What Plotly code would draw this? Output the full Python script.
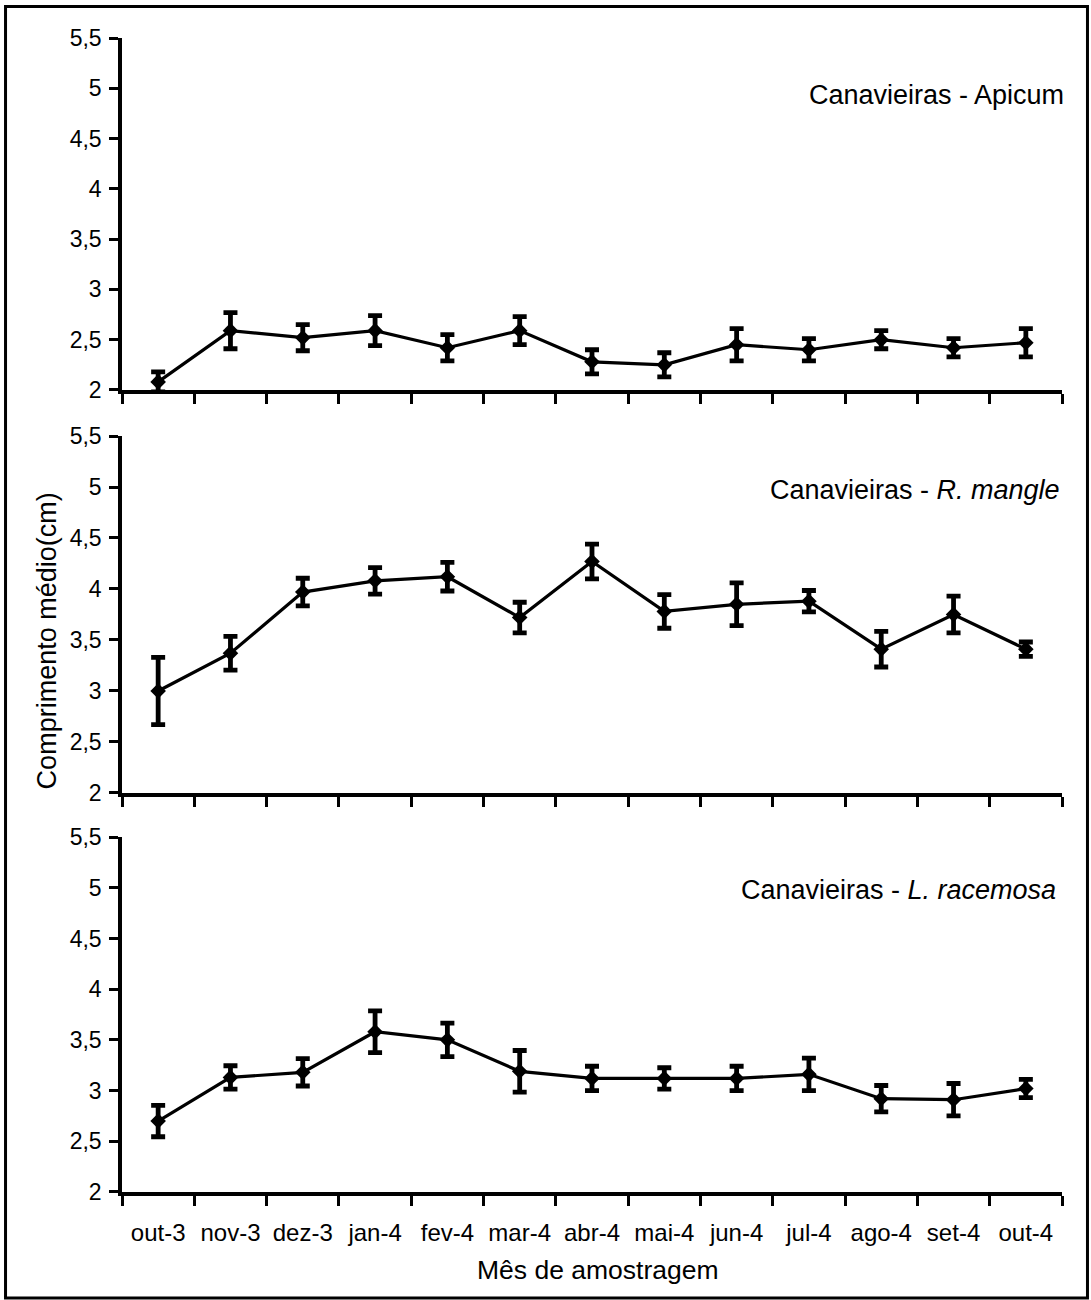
import plotly.graph_objects as go

# Sampling months (Oct 2003 - Oct 2004)
months = ["out-3", "nov-3", "dez-3", "jan-4", "fev-4", "mar-4", "abr-4",
          "mai-4", "jun-4", "jul-4", "ago-4", "set-4", "out-4"]

# Mean length (cm) and error per site
apicum_mean = [2.08, 2.59, 2.52, 2.59, 2.42, 2.59, 2.28, 2.25, 2.45, 2.40, 2.50, 2.42, 2.47]
apicum_err = [0.10, 0.18, 0.13, 0.15, 0.13, 0.14, 0.12, 0.12, 0.16, 0.11, 0.09, 0.09, 0.14]

mangle_mean = [3.00, 3.37, 3.97, 4.08, 4.12, 3.72, 4.27, 3.78, 3.85, 3.88, 3.41, 3.75, 3.41]
mangle_err = [0.33, 0.165, 0.135, 0.13, 0.14, 0.15, 0.17, 0.165, 0.21, 0.105, 0.175, 0.18, 0.07]

racemosa_mean = [2.70, 3.13, 3.18, 3.58, 3.50, 3.19, 3.12, 3.12, 3.12, 3.16, 2.92, 2.91, 3.02]
racemosa_err = [0.155, 0.115, 0.135, 0.205, 0.165, 0.205, 0.12, 0.105, 0.12, 0.16, 0.13, 0.16, 0.09]

panel_labels = ["Canavieiras - Apicum",
                "Canavieiras - <i>R. mangle</i>",
                "Canavieiras - <i>L. racemosa</i>"]

y_tickvals = [2, 2.5, 3, 3.5, 4, 4.5, 5, 5.5]
y_ticktext = ["2", "2,5", "3", "3,5", "4", "4,5", "5", "5,5"]

FONT = "Liberation Sans, Arial, sans-serif"
BLACK = "#000000"

series = [(apicum_mean, apicum_err), (mangle_mean, mangle_err), (racemosa_mean, racemosa_err)]
domains = [[0.695, 1.0], [0.3458, 0.6551], [0.0, 0.3076]]

fig = go.Figure()

for i, (mean, err) in enumerate(series, start=1):
    fig.add_trace(go.Scatter(
        x=months, y=mean,
        xaxis=f"x{i}" if i > 1 else "x",
        yaxis=f"y{i}" if i > 1 else "y",
        mode="lines+markers",
        line=dict(color=BLACK, width=3.2),
        marker=dict(symbol="diamond", size=12, color=BLACK),
        error_y=dict(type="data", array=err, visible=True,
                     color=BLACK, thickness=4.8, width=7),
        cliponaxis=False,
        showlegend=False,
    ))

layout = dict(
    width=1091, height=1300,
    margin=dict(l=122, r=29, t=38, b=108),
    paper_bgcolor="white", plot_bgcolor="white",
    font=dict(family=FONT, color=BLACK, size=24),
    showlegend=False,
)

for i in range(1, 4):
    xa = "xaxis" if i == 1 else f"xaxis{i}"
    ya = "yaxis" if i == 1 else f"yaxis{i}"
    ykey = "y" if i == 1 else f"y{i}"
    xkey = "x" if i == 1 else f"x{i}"
    layout[xa] = dict(
        type="category", anchor=ykey, domain=[0, 1],
        categoryorder="array", categoryarray=months,
        range=[-0.5, 12.5],
        showline=True, linecolor=BLACK, linewidth=3.5,
        ticks="outside", tickson="boundaries", ticklen=10, tickwidth=3,
        tickcolor=BLACK, showgrid=False, zeroline=False,
        showticklabels=(i == 3), tickangle=0,
        tickfont=dict(family=FONT, size=24, color=BLACK),
        ticklabelstandoff=16,
    )
    layout[ya] = dict(
        anchor=xkey, domain=domains[i - 1],
        range=[2, 5.5],
        tickvals=y_tickvals, ticktext=y_ticktext,
        showline=True, linecolor=BLACK, linewidth=3.5,
        ticks="outside", ticklen=9, tickwidth=3, tickcolor=BLACK,
        showgrid=False, zeroline=False,
        tickfont=dict(family=FONT, size=23, color=BLACK),
        ticklabelstandoff=3,
    )

fig.update_layout(**layout)

# Site labels in the upper right of each panel
label_pos = [(1.0043, 0.9506), (1.0, 0.6083), (0.9957, 0.2617)]
for text, (px, py) in zip(panel_labels, label_pos):
    fig.add_annotation(text=text, xref="paper", yref="paper", x=px, y=py,
                       xanchor="right", yanchor="middle", showarrow=False,
                       font=dict(family=FONT, size=27, color=BLACK))

# Axis titles
fig.add_annotation(text="Comprimento médio(cm)", xref="paper", yref="paper",
                   x=-0.0798, y=0.478, textangle=-90, showarrow=False,
                   xanchor="center", yanchor="middle",
                   font=dict(family=FONT, size=27, color=BLACK))
fig.add_annotation(text="Mês de amostragem", xref="paper", yref="paper",
                   x=0.506, y=-0.0676, showarrow=False,
                   xanchor="center", yanchor="middle",
                   font=dict(family=FONT, size=26.5, color=BLACK))

# Frame around the whole figure
fig.add_shape(type="rect", xref="paper", yref="paper",
              x0=-0.1239, x1=1.0271, y0=-0.0919, y1=1.0272,
              line=dict(color=BLACK, width=3), layer="above")

fig.write_html("out.html")
